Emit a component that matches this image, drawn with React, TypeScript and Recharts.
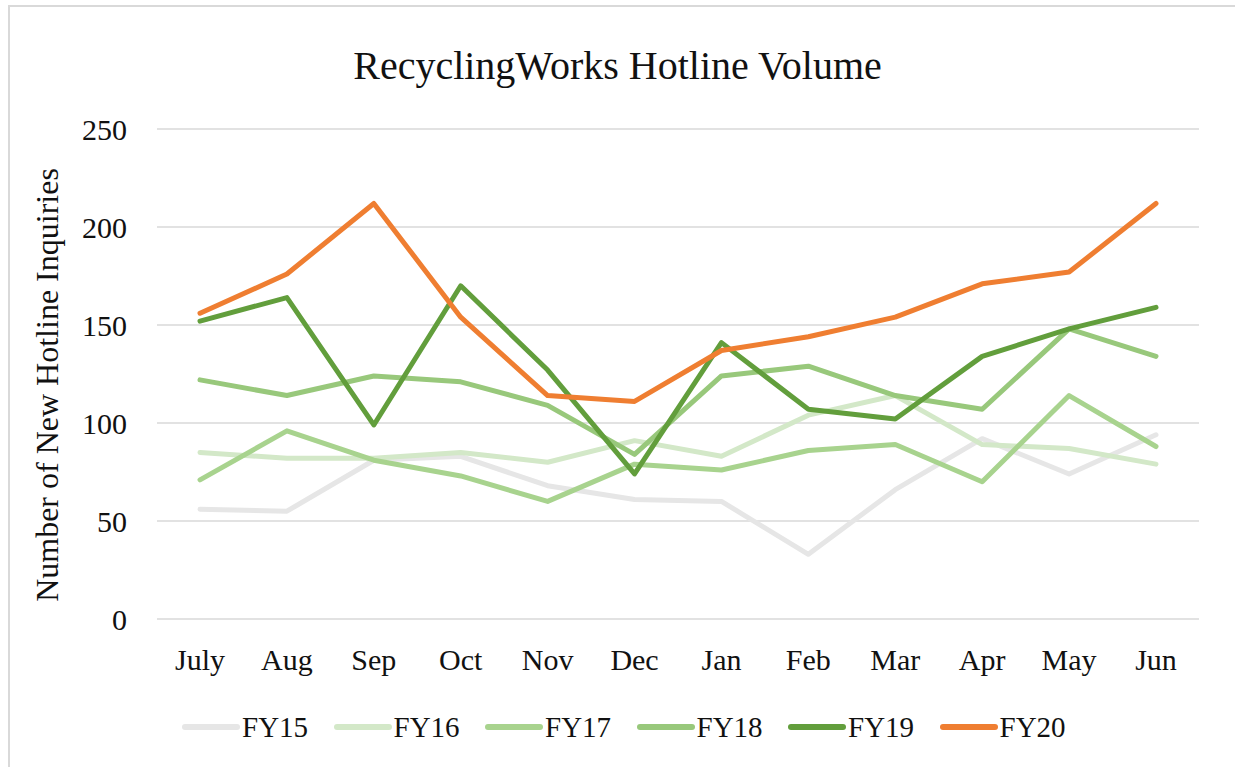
import { CartesianGrid, Label, Legend, Line, LineChart, XAxis, YAxis } from "recharts";

const MONTHS = ["July", "Aug", "Sep", "Oct", "Nov", "Dec", "Jan", "Feb", "Mar", "Apr", "May", "Jun"];

const FY15 = [56, 55, 81, 83, 68, 61, 60, 33, 66, 92, 74, 94];
const FY16 = [85, 82, 82, 85, 80, 91, 83, 104, 114, 89, 87, 79];
const FY17 = [71, 96, 81, 73, 60, 79, 76, 86, 89, 70, 114, 88];
const FY18 = [122, 114, 124, 121, 109, 84, 124, 129, 114, 107, 148, 134];
const FY19 = [152, 164, 99, 170, 127, 74, 141, 107, 102, 134, 148, 159];
const FY20 = [156, 176, 212, 154, 114, 111, 137, 144, 154, 171, 177, 212];

const Y_TICKS = [0, 50, 100, 150, 200, 250];

const SERIES = [
  { key: "FY15", values: FY15, color: "#e6e6e6" },
  { key: "FY16", values: FY16, color: "#d3e8c8" },
  { key: "FY17", values: FY17, color: "#a8d38e" },
  { key: "FY18", values: FY18, color: "#98c87b" },
  { key: "FY19", values: FY19, color: "#629e3c" },
  { key: "FY20", values: FY20, color: "#ef7e31" },
];

const data = MONTHS.map((m, i) => {
  const row: Record<string, string | number> = { month: m };
  SERIES.forEach((s) => (row[s.key] = s.values[i]));
  return row;
});

const FONT = "'Liberation Serif', 'DejaVu Serif', serif";
const TEXT = "#111";

function LegendBox() {
  return (
    <div style={{ display: "flex", alignItems: "center", fontFamily: FONT, fontSize: 29, color: TEXT }}>
      {SERIES.map((s) => (
        <div key={s.key} style={{ width: 151.5, display: "flex", alignItems: "center" }}>
          <svg width={58} height={10} style={{ display: "block" }}>
            <line x1={3} y1={5} x2={55} y2={5} stroke={s.color} strokeWidth={6} strokeLinecap="round" />
          </svg>
          <span style={{ marginLeft: 2, lineHeight: "30px" }}>{s.key}</span>
        </div>
      ))}
    </div>
  );
}

export default function App() {
  return (
    <div style={{ position: "absolute", left: 0, top: 0, width: 1235, height: 767, background: "#fff" }}>
      <div
        style={{
          position: "absolute",
          left: 8,
          top: 5,
          width: 1225,
          height: 760,
          borderLeft: "2px solid #d9d9d9",
          borderTop: "2px solid #d9d9d9",
        }}
      />
      <div
        style={{
          position: "absolute",
          left: 0,
          top: 46,
          width: 1235,
          textAlign: "center",
          fontFamily: FONT,
          fontSize: 40,
          lineHeight: "40px",
          color: TEXT,
        }}
      >
        RecyclingWorks Hotline Volume
      </div>
      <div style={{ position: "absolute", left: 0, top: 0 }}>
        <LineChart width={1235} height={767} data={data} margin={{ top: 129, right: 36, bottom: 88, left: 0 }}>
          <CartesianGrid vertical={false} stroke="#d9d9d9" strokeWidth={1.5} />
          <XAxis
            dataKey="month"
            axisLine={false}
            tickLine={false}
            tickSize={0}
            tickMargin={30}
            height={60}
            padding={{ left: 43, right: 43 }}
            interval={0}
            tick={{ fill: TEXT, fontSize: 30, fontFamily: FONT }}
          />
          <YAxis
            domain={[0, 250]}
            ticks={Y_TICKS}
            width={157}
            axisLine={false}
            tickLine={false}
            tickSize={0}
            tickMargin={30}
            tick={{ fill: TEXT, fontSize: 30, fontFamily: FONT }}
          >
            <Label
              content={() => (
                <text
                  x={47}
                  y={385}
                  transform="rotate(-90 47 385)"
                  textAnchor="middle"
                  dominantBaseline="central"
                  fill={TEXT}
                  fontSize={32}
                  fontFamily={FONT}
                >
                  Number of New Hotline Inquiries
                </text>
              )}
            />
          </YAxis>
          <Legend
            layout="horizontal"
            verticalAlign="middle"
            align="center"
            content={() => <LegendBox />}
            wrapperStyle={{ top: 712, left: 182, width: 940 }}
          />
          {SERIES.map((s) => (
            <Line
              key={s.key}
              dataKey={s.key}
              stroke={s.color}
              strokeWidth={5}
              strokeLinecap="round"
              strokeLinejoin="round"
              dot={false}
              activeDot={false}
              isAnimationActive={false}
            />
          ))}
        </LineChart>
      </div>
    </div>
  );
}
